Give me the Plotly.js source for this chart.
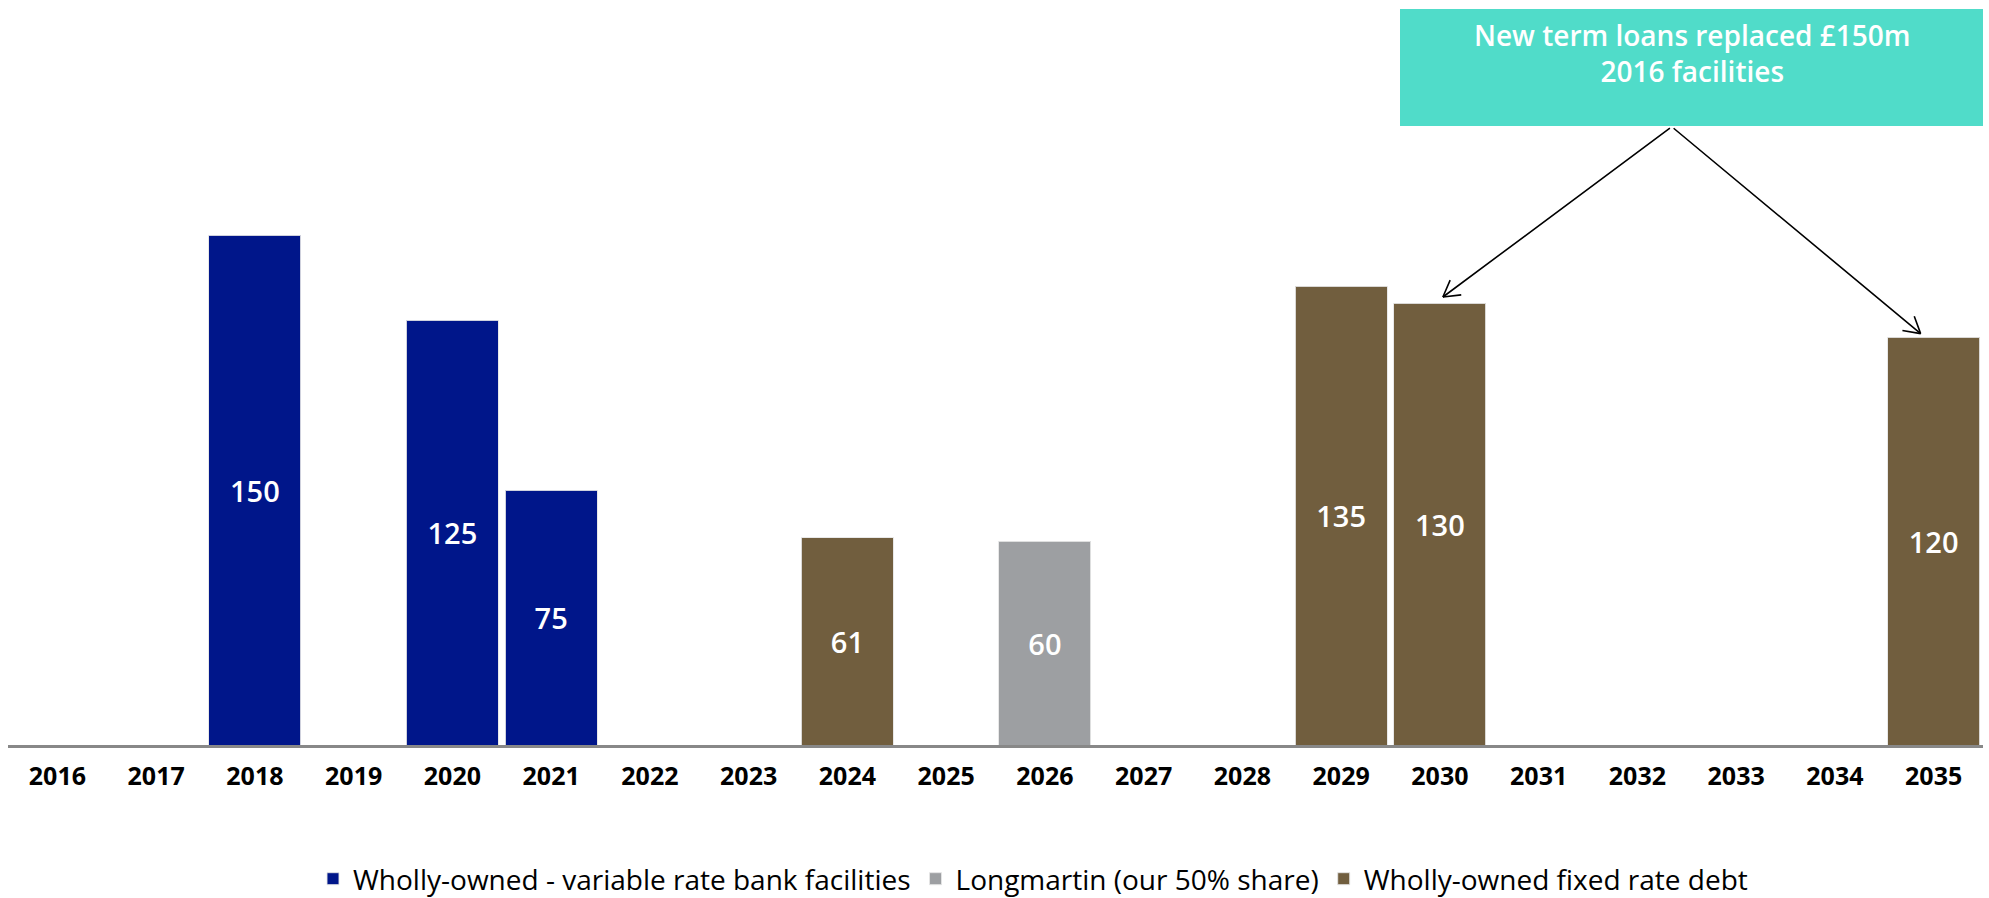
<!DOCTYPE html>
<html>
<head>
<meta charset="utf-8">
<script src="https://cdn.plot.ly/plotly-3.0.1.min.js"></script>
<style>html,body{margin:0;padding:0;background:#fff;}#chart{width:1989px;height:898px;}</style>
</head>
<body>
<div id="chart"></div>
<script>
// ---- Data ----
const years = ["2016","2017","2018","2019","2020","2021","2022","2023","2024","2025","2026","2027","2028","2029","2030","2031","2032","2033","2034","2035"];
const variableBank = [null,null,150,null,125,75,null,null,null,null,null,null,null,null,null,null,null,null,null,null];
const longmartin   = [null,null,null,null,null,null,null,null,null,null,60,null,null,null,null,null,null,null,null,null];
const fixedRate    = [null,null,null,null,null,null,null,null,61,null,null,null,null,135,130,null,null,null,null,120];
const seriesNames = ["Wholly-owned - variable rate bank facilities","Longmartin (our 50% share)","Wholly-owned fixed rate debt"];
const calloutText = "New term loans replaced £150m<br>2016 facilities";
const calloutTargets = ["2030","2035"];

// ---- Layout geometry (pixels) ----
const W = 1989, H = 898;
const M = {l: 8, r: 6, t: 65, b: 153, autoexpand: false};
const plotW = W - M.l - M.r, plotH = H - M.t - M.b;
const px2paperX = px => (px - M.l) / plotW;
const px2paperY = py => (H - M.b - py) / plotH;

const colors = {blue: "#00168A", grey: "#9D9FA2", brown: "#715E3E", teal: "#50DCC9"};
const FONT = "Open Sans, Lato, sans-serif";

function barTrace(y, name, color) {
  return {
    type: "bar", x: years, y: y, name: name,
    marker: {color: color, line: {color: "rgba(230,230,230,0.9)", width: 1}},
    texttemplate: "%{y}", textposition: "inside", insidetextanchor: "middle",
    textfont: {family: FONT, size: 29, color: "#ffffff", weight: 600},
    cliponaxis: false, hoverinfo: "x+y"
  };
}
const data = [
  barTrace(variableBank, seriesNames[0], colors.blue),
  barTrace(longmartin, seriesNames[1], colors.grey),
  barTrace(fixedRate, seriesNames[2], colors.brown)
];

// callout arrows
const tail = {x: 1672, y: 127};
const heads = [
  {cat: calloutTargets[0], px: 1443.5, py: 297, xshift: 3},
  {cat: calloutTargets[1], px: 1920.5, py: 333.6, xshift: -13}
];
const annotations = [];
heads.forEach(h => {
  const idx = years.indexOf(h.cat);
  const ax = tail.x - h.px, ay = tail.y - h.py;
  const yv = (H - M.b - h.py) / (plotH / 200);
  annotations.push({x: idx, y: yv, xref: "x", yref: "y", xshift: h.xshift, text: "", showarrow: true,
    arrowhead: 0, arrowwidth: 1.6, arrowcolor: "#000", ax: ax, ay: ay, standoff: 0});
  const len = Math.hypot(ax, ay);
  const ux = ax / len, uy = ay / len;
  [30, -30].forEach(deg => {
    const r = deg * Math.PI / 180;
    const rx = ux * Math.cos(r) - uy * Math.sin(r);
    const ry = ux * Math.sin(r) + uy * Math.cos(r);
    annotations.push({x: idx, y: yv, xref: "x", yref: "y", xshift: h.xshift, text: "", showarrow: true,
      arrowhead: 0, arrowwidth: 1.6, arrowcolor: "#000", ax: rx * 20, ay: ry * 20, standoff: 0});
  });
});
annotations.push({
  xref: "paper", yref: "paper", x: px2paperX(1691.5), y: px2paperY(53),
  xanchor: "center", yanchor: "middle", text: calloutText, showarrow: false, align: "center",
  font: {family: FONT, size: 28, color: "#ffffff", weight: 600}
});

const layout = {
  width: W, height: H,
  margin: M,
  paper_bgcolor: "#ffffff", plot_bgcolor: "#ffffff",
  barmode: "stack", bargap: 0.07,
  showlegend: true,
  legend: {orientation: "h", x: px2paperX(1033), xanchor: "center", y: px2paperY(879), yanchor: "middle",
    font: {family: FONT, size: 28, color: "#000", weight: 500}, traceorder: "normal", itemclick: false},
  xaxis: {type: "category", range: [-0.5, years.length - 0.5], showgrid: false, zeroline: false, showline: true,
    linecolor: "#888888", linewidth: 3,
    ticks: "outside", ticklen: 7, tickcolor: "rgba(0,0,0,0)",
    tickfont: {family: FONT, size: 25, color: "#000", weight: 700}},
  yaxis: {range: [0, 200], visible: false, showgrid: false, zeroline: false, fixedrange: true},
  shapes: [{type: "rect", xref: "paper", yref: "paper", x0: px2paperX(1400), x1: px2paperX(1983),
    y0: px2paperY(126), y1: px2paperY(9), fillcolor: colors.teal, line: {width: 0}, layer: "above"}],
  annotations: annotations
};
Plotly.newPlot("chart", data, layout, {displayModeBar: false, staticPlot: true});
</script>
</body>
</html>
